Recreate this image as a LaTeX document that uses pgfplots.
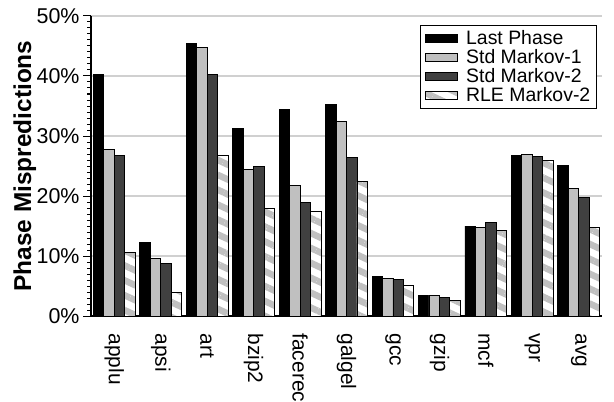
\documentclass[border=0pt]{standalone}
\usepackage{pgfplots}
\pgfplotsset{compat=1.18}
\usepackage{fontspec}
\setmainfont{Liberation Sans}
\usetikzlibrary{patterns.meta}
\definecolor{lgray}{HTML}{C0C0C0}
\definecolor{dgray}{HTML}{404040}
\definecolor{gridgray}{HTML}{D0D0D0}
\begin{document}
\begin{tikzpicture}[x=1bp,y=1bp]
\useasboundingbox (0,0) rectangle (614,401);
\begin{axis}[
  at={(91bp,85bp)}, anchor=south west,
  scale only axis, width=511bp, height=300bp,
  ybar=0pt, bar width=0.225,
  xmin=-0.5, xmax=10.5, ymin=0, ymax=50,
  xtick={0,...,10},
  xticklabels={applu,apsi,art,bzip2,facerec,galgel,gcc,gzip,mcf,vpr,avg},
  xticklabel style={rotate=-90, anchor=west, font=\fontsize{21}{21}\selectfont},
  xticklabel shift=6bp,
  ytick={0,10,...,50},
  yticklabels={0\%,10\%,20\%,30\%,40\%,50\%},
  yticklabel style={font=\fontsize{21.5}{21.5}\selectfont},
  minor y tick num=9,
  axis x line*=bottom, axis y line*=left,
  x axis line style={-, line width=1.2bp},
  y axis line style={-, line width=1.2bp},
  xtick style={draw=none},
  ytick style={line width=1bp, black},
  tick align=outside,
  major tick length=8bp, minor tick length=4bp,
  ymajorgrids, major grid style={gridgray, line width=1.2bp},
  ylabel={\bfseries Phase Mispredictions},
  ylabel style={font=\fontsize{24.5}{24.5}\selectfont, at={(rel axis cs:-0.1585,0.5)}, anchor=north},
  legend style={at={(0.99,0.97)}, anchor=north east, draw=black, line width=1.2bp,
    font=\fontsize{19.5}{22}\selectfont, row sep=-0.5bp, inner xsep=4bp, inner ysep=3bp},
  legend cell align=left,
  legend image code/.code={\draw[#1, line width=0.8bp] (0bp,-4bp) rectangle (32bp,4bp);
    \path (-1bp,0bp) (38bp,0bp);},
  every axis plot/.append style={draw=black, line width=0.8bp},
]
\addplot[fill=black] coordinates {(0,40.3) (1,12.3) (2,45.4) (3,31.2) (4,34.5) (5,35.2) (6,6.6) (7,3.5) (8,15.0) (9,26.7) (10,25.1)};
\addplot[fill=lgray] coordinates {(0,27.8) (1,9.6) (2,44.7) (3,24.4) (4,21.7) (5,32.4) (6,6.2) (7,3.5) (8,14.8) (9,26.9) (10,21.2)};
\addplot[fill=dgray] coordinates {(0,26.8) (1,8.7) (2,40.2) (3,24.9) (4,18.9) (5,26.4) (6,6.1) (7,3.1) (8,15.6) (9,26.6) (10,19.7)};
\addplot[fill=white, postaction={pattern={Lines[angle=-25, distance=13.5bp, line width=6.5bp]}, pattern color=lgray}] coordinates {(0,10.6) (1,4.0) (2,26.7) (3,18.0) (4,17.4) (5,22.4) (6,5.1) (7,2.6) (8,14.3) (9,26.0) (10,14.7)};
\legend{Last Phase, Std Markov-1, Std Markov-2, RLE Markov-2}
\end{axis}
\end{tikzpicture}
\end{document}
